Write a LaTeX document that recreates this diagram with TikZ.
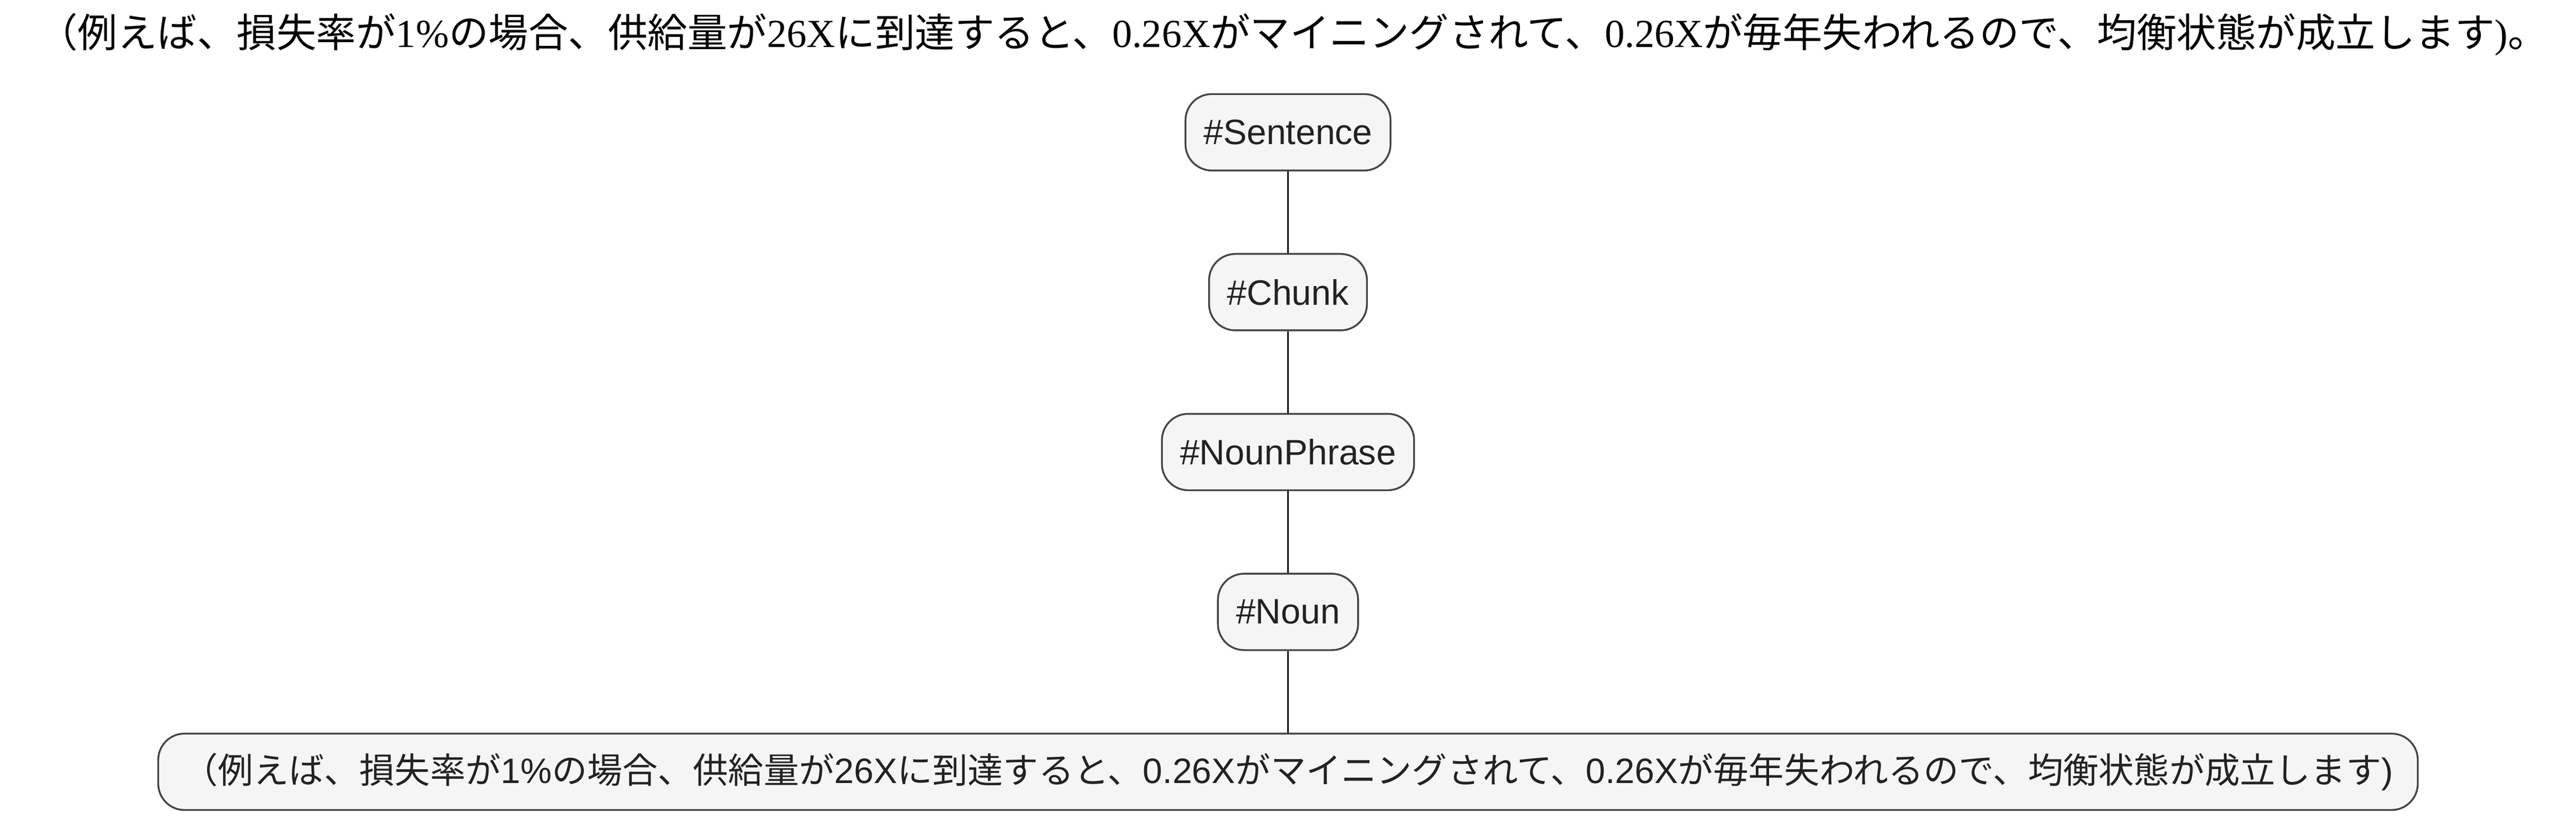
\documentclass[tikz,border=0pt]{standalone}
\usepackage{fontspec}
\setmainfont{Liberation Serif}
\setsansfont{Liberation Sans}
\newfontfamily\cjk{Noto Sans CJK JP}
\usepackage{xcolor}
\usetikzlibrary{positioning}

\definecolor{tagfill}{HTML}{F5F5F5}
\definecolor{tagline}{HTML}{444444}
\definecolor{tagtext}{HTML}{222222}

% Satz: #1 = Schrift fuer Japanisch, #2 = Schrift fuer Ziffern
\newcommand{\jpsatz}[2]{{#1（例えば、損失率が}{#2{1\%}}{#1の場合、供給量が}{#2{26X}}{#1に到達すると、}{#2{0.26X}}{#1がマイニングされて、}{#2{0.26X}}{#1が毎年失われるので、均衡状態が成立します}{#2{)}}}

\tikzset{
  tag/.style={draw=tagline, fill=tagfill, line width=1.1pt, rounded corners=16pt, minimum height=46.5pt, inner xsep=11pt, text=tagtext, font=\sffamily\fontsize{21.5}{26}\selectfont},
  link/.style={line width=1.1pt}
}

\begin{document}
\begin{tikzpicture}[x=1pt, y=-1pt, node distance=49.7pt]

    \useasboundingbox (0,0) rectangle (1568,500);

    % Satz oben
    \node (titel) at (787,21) [font=\fontsize{24.2}{28}\selectfont] {\jpsatz{\cjk}{\rmfamily}{\cjk 。}};

    % Knoten
    \node (sentence) at (784,80.5) [tag] {\#Sentence};
    \node (chunk) [tag, below=of sentence] {\#Chunk};
    \node (nounphrase) [tag, below=of chunk] {\#NounPhrase};
    \node (noun) [tag, below=of nounphrase] {\#Noun};
    \node (wort) [tag, inner xsep=15pt, below=of noun] {\jpsatz{\cjk}{\sffamily}};

    % Verbindungen
    \draw[link] (sentence) -- (chunk);
    \draw[link] (chunk) -- (nounphrase);
    \draw[link] (nounphrase) -- (noun);
    \draw[link] (noun) -- (wort);

\end{tikzpicture}
\end{document}
